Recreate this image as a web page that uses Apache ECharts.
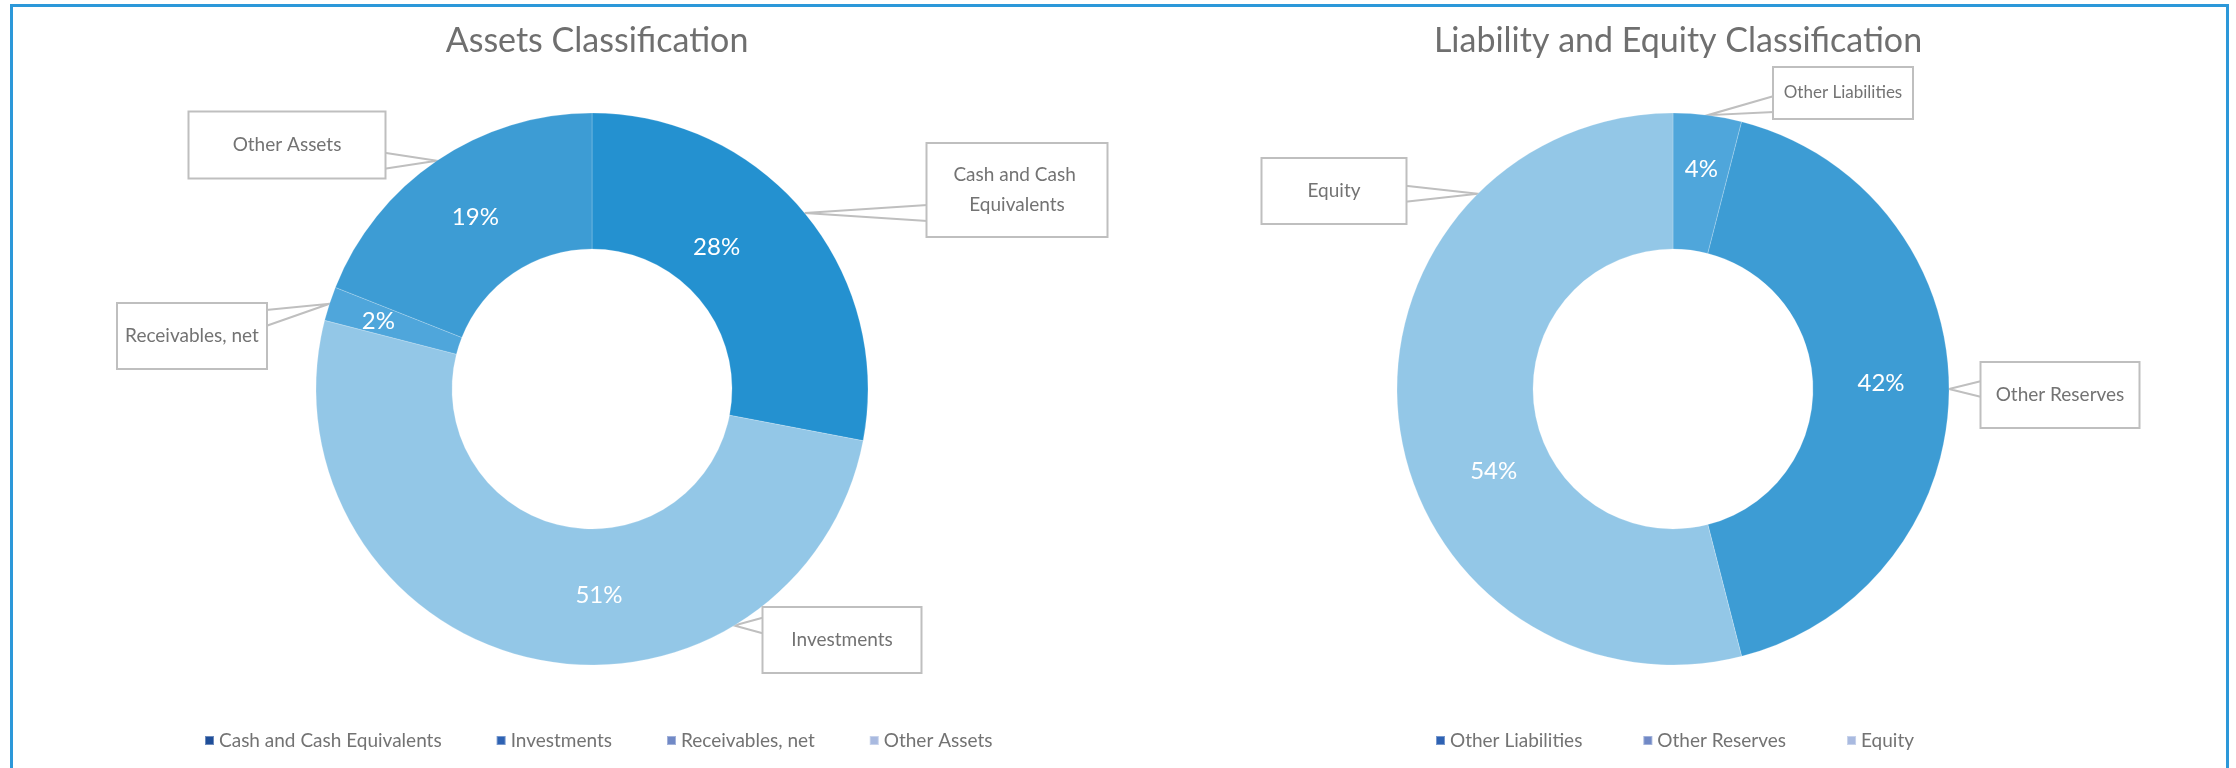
<!DOCTYPE html>
<html>
<head>
<meta charset="utf-8">
<title>Balance Sheet Classification</title>
<script src="https://cdn.jsdelivr.net/npm/echarts@6/dist/echarts.min.js"></script>
<style>
  html, body { margin: 0; padding: 0; background: #ffffff; overflow: hidden; }
  #chart { position: absolute; left: 0; top: 0; width: 2236px; height: 768px; }
  #frame {
    position: absolute; left: 10px; top: 4px; width: 2219px; height: 900px;
    box-sizing: border-box; border: 3px solid #2C98D9; pointer-events: none;
  }
</style>
</head>
<body>
<div id="chart"></div>
<div id="frame"></div>
<script>
// ---- data ----
const assetTitle = 'Assets Classification';
const assetNames = ['Cash and Cash Equivalents', 'Investments', 'Receivables, net', 'Other Assets'];
const assetValues = [28, 51, 2, 19];

const liabTitle = 'Liability and Equity Classification';
const liabNames = ['Other Liabilities', 'Other Reserves', 'Equity'];
const liabValues = [4, 42, 54];

// ---- styling ----
const FONT = 'Lato, "Noto Sans", sans-serif';
const TEXT_GRAY = '#737373';
const assetColors = ['#2491D0', '#93C7E7', '#4FA6DB', '#3D9CD4'];
const liabColors = ['#4FA6DB', '#3D9CD4', '#93C7E7'];
const assetLegendColors = ['#1F4E99', '#2E62B3', '#7189C6', '#A9BAE0'];
const liabLegendColors = ['#2E62B3', '#7189C6', '#A9BAE0'];

// ring geometry (px)
const assetCenter = [592, 389];
const liabCenter = [1673, 389];
const innerR = 140, outerR = 276;

// nudges for the percentage labels inside the ring
const pctNudge = {
  'Cash and Cash Equivalents': [-38, -7],
  'Investments': [53, 0],
  'Receivables, net': [-13, -3],
  'Other Assets': [2, 3],
  'Other Liabilities': [2, -10],
  'Other Reserves': [-3, -6],
  'Equity': [30, 56]
};

// callout boxes: centre, size; optional pointer angle (deg clockwise from 12 o'clock)
const assetCallouts = {
  'Cash and Cash Equivalents': { x: 1017, y: 190, w: 179, h: 92, lines: 2 },
  'Investments': { x: 842, y: 640, w: 157, h: 64, tipAngle: 149 },
  'Receivables, net': { x: 192, y: 336, w: 148, h: 64 },
  'Other Assets': { x: 287, y: 145, w: 195, h: 65 }
};
const liabCallouts = {
  'Other Liabilities': { x: 1843, y: 93, w: 138, h: 50, fontSize: 17 },
  'Other Reserves': { x: 2060, y: 395, w: 157, h: 64 },
  'Equity': { x: 1334, y: 191, w: 143, h: 64, tipAngle: 315 }
};

function ringData(names, values, colors) {
  return names.map((n, i) => ({ name: n, value: values[i], itemStyle: { color: colors[i] } }));
}

function calloutData(names, values, boxes) {
  return names.map((n, i) => {
    const b = boxes[n];
    const lines = b.lines || 1;
    const lh = lines > 1 ? 30 : b.h;
    const label = {
      width: b.w,
      lineHeight: lh,
      padding: [(b.h - lh * lines) / 2, 0],
      overflow: lines > 1 ? 'break' : 'none'
    };
    if (b.fontSize) label.fontSize = b.fontSize;
    return { name: n, value: values[i], label: label };
  });
}

// places each callout box and draws its pointer as a wedge to the ring edge
function calloutLayout(names, values, boxes, center, radius) {
  const total = values.reduce((a, b) => a + b, 0);
  const clamp = (v, lo, hi) => Math.max(lo, Math.min(hi, v));
  return function (p) {
    const name = names[p.dataIndex];
    const b = boxes[name];
    let before = 0;
    for (let i = 0; i < p.dataIndex; i++) before += values[i];
    const mid = (before + values[p.dataIndex] / 2) / total * 360;
    const ang = (b.tipAngle != null ? b.tipAngle : mid) * Math.PI / 180;
    const tip = [center[0] + radius * Math.sin(ang), center[1] - radius * Math.cos(ang)];
    const l = b.x - b.w / 2, r = b.x + b.w / 2, t = b.y - b.h / 2, bt = b.y + b.h / 2;
    const half = 8, inset = 14;
    let pts;
    if (tip[0] < l || tip[0] > r) {
      const ex = tip[0] < l ? l : r;
      const cy = clamp(tip[1], t + inset, bt - inset);
      pts = [[ex, cy - half], tip, [ex, cy + half]];
    } else {
      const ey = tip[1] < t ? t : bt;
      const cx = clamp(tip[0], l + inset, r - inset);
      pts = [[cx - half, ey], tip, [cx + half, ey]];
    }
    return { x: b.x, y: b.y, align: 'center', verticalAlign: 'middle', labelLinePoints: pts };
  };
}

function pctLayout(names) {
  return function (p) {
    const d = pctNudge[names[p.dataIndex]] || [0, 0];
    return { dx: d[0], dy: d[1] };
  };
}

function ringSeries(names, values, colors, center) {
  return {
    type: 'pie',
    center: center,
    radius: [innerR, outerR],
    startAngle: 90,
    clockwise: true,
    animation: false,
    silent: true,
    itemStyle: { borderColor: 'rgba(255,255,255,0.35)', borderWidth: 0.6 },
    label: {
      show: true,
      position: 'inside',
      formatter: '{d}%',
      color: '#ffffff',
      fontFamily: FONT,
      fontSize: 24
    },
    labelLine: { show: false },
    labelLayout: pctLayout(names),
    emphasis: { disabled: true },
    data: ringData(names, values, colors)
  };
}

function calloutSeries(names, values, boxes, center) {
  return {
    type: 'pie',
    center: center,
    radius: [innerR, outerR],
    startAngle: 90,
    clockwise: true,
    animation: false,
    silent: true,
    avoidLabelOverlap: false,
    itemStyle: { color: 'rgba(0,0,0,0)' },
    label: {
      show: true,
      position: 'outside',
      formatter: '{b}',
      color: TEXT_GRAY,
      fontFamily: FONT,
      fontSize: 19,
      align: 'center',
      backgroundColor: '#ffffff',
      borderColor: '#BFBFBF',
      borderWidth: 2
    },
    labelLine: { show: true, smooth: false, lineStyle: { color: '#BFBFBF', width: 2 } },
    labelLayout: calloutLayout(names, values, boxes, center, outerR),
    emphasis: { disabled: true },
    data: calloutData(names, values, boxes)
  };
}

function legendOf(names, colors, left, gap) {
  return {
    left: left,
    top: 726,
    orient: 'horizontal',
    icon: 'rect',
    itemWidth: 9,
    itemHeight: 9,
    itemGap: gap,
    selectedMode: false,
    textStyle: { color: TEXT_GRAY, fontFamily: FONT, fontSize: 19 },
    data: names.map((n, i) => ({ name: n, itemStyle: { color: colors[i] } }))
  };
}

const titleStyle = { color: '#6F6F6F', fontFamily: FONT, fontSize: 34, fontWeight: 'normal' };

const chart = echarts.init(document.getElementById('chart'), null, { renderer: 'canvas' });
chart.setOption({
  backgroundColor: '#ffffff',
  animation: false,
  title: [
    { text: assetTitle, left: assetCenter[0], top: 19, textAlign: 'center', textStyle: titleStyle },
    { text: liabTitle, left: liabCenter[0], top: 19, textAlign: 'center', textStyle: titleStyle }
  ],
  legend: [
    legendOf(assetNames, assetLegendColors, 199, 54),
    legendOf(liabNames, liabLegendColors, 1430, 60)
  ],
  series: [
    ringSeries(assetNames, assetValues, assetColors, assetCenter),
    calloutSeries(assetNames, assetValues, assetCallouts, assetCenter),
    ringSeries(liabNames, liabValues, liabColors, liabCenter),
    calloutSeries(liabNames, liabValues, liabCallouts, liabCenter)
  ]
});
</script>
</body>
</html>
